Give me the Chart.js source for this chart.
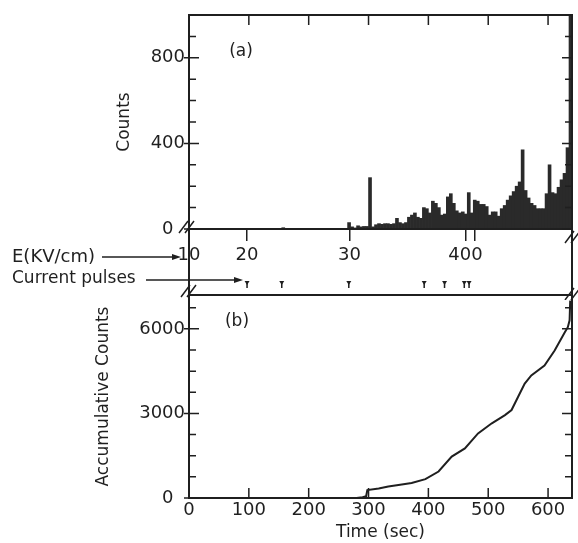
<!DOCTYPE html>
<html>
<head>
<meta charset="utf-8">
<title>Counts vs time</title>
<script src="https://cdn.jsdelivr.net/npm/chart.js@4.4.0/dist/chart.umd.min.js"></script>
<style>
  body { margin: 0; background: #fff; }
  #wrap { position: relative; width: 578px; height: 543px; }
  canvas { position: absolute; left: 0; }
</style>
</head>
<body>
<div id="wrap">
  <canvas id="countsChart" width="578" height="300" style="top:0"></canvas>
  <canvas id="accumChart" width="578" height="263" style="top:280px"></canvas>
</div>
<script>
// (a) histogram, 5 s bins, start time of each bin (sec)
const binTimes = [155, 265, 270, 275, 280, 285, 290, 295, 300, 305,
  310, 315, 320, 325, 330, 335, 340, 345, 350, 355,
  360, 365, 370, 375, 380, 385, 390, 395, 400, 405,
  410, 415, 420, 425, 430, 435, 440, 445, 450, 455,
  460, 465, 470, 475, 480, 485, 490, 495, 500, 505,
  510, 515, 520, 525, 530, 535, 540, 545, 550, 555,
  560, 565, 570, 575, 580, 585, 590, 595, 600, 605,
  610, 615, 620, 625, 630, 635]
const binCounts = [6, 30, 10, 5, 15, 10, 12, 12, 240, 10,
  20, 25, 22, 25, 25, 22, 25, 50, 30, 25,
  30, 55, 65, 75, 55, 50, 100, 95, 75, 130,
  120, 100, 65, 70, 150, 165, 120, 85, 75, 80,
  70, 170, 75, 135, 130, 115, 115, 105, 65, 80,
  80, 60, 95, 110, 135, 155, 175, 200, 220, 370,
  180, 145, 120, 110, 95, 95, 95, 165, 300, 170,
  165, 195, 230, 260, 380, 1000]

// (b) accumulative counts
const accTime = [150, 280, 290, 296, 298, 317, 333, 350, 372, 395, 417, 439, 461,
  483, 506, 528, 539, 550, 561, 572, 594, 611, 628, 633, 636, 637]
const accCounts = [0, 0, 30, 60, 280, 340, 410, 460, 530, 670, 940, 1470, 1760,
  2290, 2650, 2940, 3120, 3590, 4060, 4350, 4700, 5230, 5880, 6060, 6300, 7000]

// field strength marks (placed on the time axis) and current pulses
const fieldTimes = [0, 97, 268, 462, 478]
const fieldLabels = ['10', '20', '30', '400', '']
const pulseTimes = [97, 155, 267, 393, 427, 460, 468]

// tick positions
const timeMarks = [100, 200, 300, 400, 500, 600]
const countTicks = [0, 100, 200, 300, 400, 500, 600, 700, 800, 900, 1000]
const accTicks = [0, 750, 1500, 2250, 3000, 3750, 4500, 5250, 6000, 6750]

const ink = '#1f1f1f'
Chart.defaults.font.family = "'DejaVu Sans', sans-serif"
Chart.defaults.font.size = 18
Chart.defaults.color = ink

function breakMark (ctx, cx, cy) {
  ctx.beginPath()
  for (const off of [-3, 3]) {
    ctx.moveTo(cx - 5 + off, cy + 6)
    ctx.lineTo(cx + 4 + off, cy - 6)
  }
  ctx.stroke()
}

function arrow (ctx, x1, x2, y) {
  ctx.beginPath()
  ctx.moveTo(x1, y)
  ctx.lineTo(x2 - 6, y)
  ctx.stroke()
  ctx.beginPath()
  ctx.moveTo(x2, y)
  ctx.lineTo(x2 - 9, y - 3)
  ctx.lineTo(x2 - 9, y + 3)
  ctx.closePath()
  ctx.fill()
}

// box with inward ticks
const frame = {
  id: 'frame',
  afterDatasetsDraw (chart, args, o) {
    const { ctx, chartArea: a } = chart
    const x = chart.scales.x
    const y = chart.scales.y
    ctx.save()
    ctx.strokeStyle = ink
    ctx.lineWidth = 2
    ctx.strokeRect(a.left, a.top, a.right - a.left, a.bottom - a.top)
    ctx.lineWidth = 1.5
    ctx.beginPath()
    y.ticks.forEach(t => {
      const py = y.getPixelForValue(t.value)
      const big = t.value % o.major === 0
      const n = big ? 10 : 7
      ctx.moveTo(a.left - (big ? 5 : 0), py)
      ctx.lineTo(a.left + n, py)
      ctx.moveTo(a.right, py)
      ctx.lineTo(a.right - n, py)
    })
    timeMarks.forEach(v => {
      const px = x.getPixelForValue(v)
      if (o.side === 'top') {
        ctx.moveTo(px, a.top)
        ctx.lineTo(px, a.top + 10)
      } else {
        ctx.moveTo(px, a.bottom)
        ctx.lineTo(px, a.bottom - 10)
      }
    })
    ctx.stroke()
    ctx.fillStyle = ink
    ctx.font = "17px 'DejaVu Sans'"
    ctx.textAlign = 'center'
    ctx.textBaseline = 'middle'
    ctx.fillText(o.tag, a.left + o.tagX, a.top + o.tagY)
    ctx.restore()
  }
}

// E axis labels, pulses and the broken axes between the panels
const between = {
  id: 'between',
  afterDraw (chart) {
    const { ctx, chartArea: a } = chart
    const x = chart.scales.x
    ctx.save()
    ctx.strokeStyle = ink
    ctx.fillStyle = ink
    ctx.lineWidth = 2
    ctx.beginPath()
    ctx.moveTo(a.left, a.bottom)
    ctx.lineTo(a.left, chart.height)
    ctx.moveTo(a.right, a.bottom)
    ctx.lineTo(a.right, chart.height)
    ctx.stroke()
    ctx.lineWidth = 1.5
    breakMark(ctx, a.left - 2, a.bottom - 2)
    breakMark(ctx, a.left, 291)
    breakMark(ctx, a.right + 1, 237)
    breakMark(ctx, a.right + 1, 294)

    ctx.textAlign = 'left'
    ctx.textBaseline = 'middle'
    ctx.font = "18px 'DejaVu Sans'"
    ctx.fillText('E(KV/cm)', 12, 257)
    ctx.font = "17px 'DejaVu Sans'"
    ctx.fillText('Current pulses', 12, 279)
    arrow(ctx, 102, 181, 257)
    arrow(ctx, 146, 243, 280)

    pulseTimes.forEach(t => {
      const px = x.getPixelForValue(t)
      ctx.beginPath()
      ctx.moveTo(px - 2.5, 281)
      ctx.lineTo(px + 2.5, 281)
      ctx.lineTo(px, 285)
      ctx.closePath()
      ctx.fill()
      ctx.fillRect(px - 0.75, 283, 1.5, 5)
    })
    ctx.restore()
  }
}

const config = {
  type: 'bar',
  data: {
    datasets: [
      {
        data: binTimes.map((t, i) => ({ x: t + 2.5, y: binCounts[i] })),
        backgroundColor: '#2a2a2a',
        borderWidth: 0,
        barPercentage: 1,
        categoryPercentage: 1
      }
    ]
  },
  options: {
    responsive: false,
    animation: false,
    layout: { padding: { left: 114, top: 15, right: 6, bottom: 0 } },
    plugins: {
      legend: { display: false },
      tooltip: { enabled: false },
      frame: { major: 400, side: 'top', tag: '(a)', tagX: 52, tagY: 37 }
    },
    scales: {
      x: {
        type: 'linear',
        min: 0,
        max: 640,
        offset: false,
        afterBuildTicks: s => { s.ticks = fieldTimes.map(v => ({ value: v })) },
        afterFit: s => { s.height = 71 },
        ticks: { autoSkip: false, maxRotation: 0, padding: 4, callback: (v, i) => fieldLabels[i] },
        grid: { drawOnChartArea: false, offset: false, tickLength: 12, color: ink, lineWidth: 1.5 },
        border: { display: false }
      },
      y: {
        min: 0,
        max: 1000,
        afterFit: s => { s.width = 75 },
        afterBuildTicks: s => { s.ticks = countTicks.map(v => ({ value: v })) },
        ticks: {
          autoSkip: false,
          padding: 4,
          callback: v => v % 400 === 0 ? (v === 0 ? '0  ' : v) : ''
        },
        grid: { display: false, drawTicks: false },
        border: { display: false },
        title: { display: true, text: 'Counts', font: { size: 17 }, padding: { top: 0, bottom: 0 } }
      }
    }
  },
  plugins: [frame, between]
}

const config2 = {
  type: 'line',
  data: {
    datasets: [
      {
        data: accTime.map((t, i) => ({ x: t, y: accCounts[i] })),
        borderColor: ink,
        borderWidth: 2,
        pointRadius: 0,
        tension: 0,
        fill: false
      }
    ]
  },
  options: {
    responsive: false,
    animation: false,
    layout: { padding: { left: 93, top: 15, right: 6, bottom: 0 } },
    plugins: {
      legend: { display: false },
      tooltip: { enabled: false },
      frame: { major: 3000, side: 'bottom', tag: '(b)', tagX: 48, tagY: 27 }
    },
    scales: {
      x: {
        type: 'linear',
        min: 0,
        max: 640,
        afterFit: s => { s.height = 45 },
        afterBuildTicks: s => { s.ticks = [0].concat(timeMarks).map(v => ({ value: v })) },
        ticks: { autoSkip: false, maxRotation: 0, padding: 2 },
        grid: { display: false, drawTicks: false },
        border: { display: false },
        title: { display: true, text: 'Time (sec)', font: { size: 17 }, padding: { top: 0, bottom: 0 } }
      },
      y: {
        min: 0,
        max: 7200,
        afterFit: s => { s.width = 96 },
        afterBuildTicks: s => { s.ticks = accTicks.map(v => ({ value: v })) },
        ticks: {
          autoSkip: false,
          padding: 4,
          callback: v => v % 3000 === 0 ? (v === 0 ? '0  ' : v) : ''
        },
        grid: { display: false, drawTicks: false },
        border: { display: false },
        title: { display: true, text: 'Accumulative Counts', font: { size: 17 }, padding: { top: 0, bottom: 0 } }
      }
    }
  },
  plugins: [frame]
}

var myChart = new Chart(document.getElementById('countsChart'), config)
var myChart2 = new Chart(document.getElementById('accumChart'), config2)
</script>
</body>
</html>
